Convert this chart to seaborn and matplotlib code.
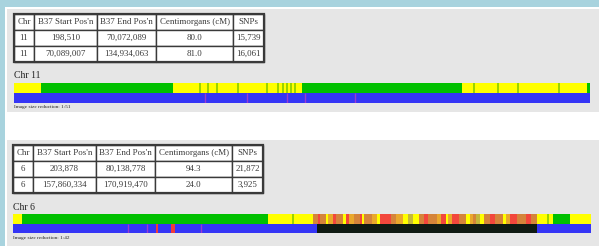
import matplotlib
matplotlib.use('Agg')
import matplotlib.pyplot as plt
import seaborn as sns
from matplotlib.patches import Rectangle

# ---- data ----
header = ['Chr', 'B37 Start Pos\'n', 'B37 End Pos\'n', 'Centimorgans (cM)', 'SNPs']

chr11_rows = [['11', '198,510', '70,072,089', '80.0', '15,739'],
              ['11', '70,089,007', '134,934,063', '81.0', '16,061']]
chr6_rows = [['6', '203,878', '80,138,778', '94.3', '21,872'],
             ['6', '157,860,334', '170,919,470', '24.0', '3,925']]

# chromosome 11 (Mb)
chr11_length = 135.0
chr11_green = [(6.3, 37.3), (67.5, 105.0), (134.3, 135.0)]
chr11_green_lines = [43.6, 45.5, 47.6, 52.5, 59.3, 61.9, 63.1, 64.0, 64.9, 65.9,
                     107.8, 113.4, 118.1, 127.7]
chr11_purple_lines = [44.8, 54.6, 64.0, 68.2, 79.9]
chr11_red = []
chr11_black = []
chr11_stripes = []

# chromosome 6 (Mb)
chr6_length = 171.0
chr6_green = [(2.7, 75.4), (159.7, 164.8)]
chr6_green_lines = [82.8, 158.3]
chr6_purple_lines = [34.0, 39.6, 55.6]
chr6_red = [(42.4, 42.9), (46.7, 47.9)]
chr6_black = [(89.9, 155.0)]
chr6_stripes = [
    (88.7, 90.2, 'b'), (90.2, 90.8, 'r'), (90.8, 92.6, 'b'), (93.2, 94.7, 'o'),
    (94.7, 95.5, 'r'), (95.5, 97.6, 'b'), (98.5, 99.4, 'r'), (99.4, 100.9, 'o'),
    (100.9, 102.6, 'b'), (102.6, 103.2, 'r'), (103.8, 106.2, 'b'), (106.2, 107.7, 'o'),
    (108.6, 111.8, 'r'), (111.8, 113.3, 'b'), (113.3, 115.4, 'o'), (116.8, 118.3, 'k'),
    (120.1, 121.6, 'b'), (121.6, 122.8, 'r'), (122.8, 125.4, 'b'), (125.4, 126.6, 'o'),
    (126.6, 128.1, 'r'), (128.7, 129.9, 'o'), (129.9, 131.9, 'r'), (131.9, 134.0, 'b'),
    (135.2, 136.1, 'o'), (136.1, 137.0, 'b'), (137.0, 138.1, 'k'), (139.3, 141.1, 'b'),
    (141.1, 142.6, 'r'), (142.6, 144.9, 'b'), (145.8, 147.0, 'o'), (147.0, 149.1, 'r'),
    (149.1, 151.7, 'b'), (151.7, 153.2, 'r'), (153.2, 155.0, 'b'),
]

YELLOW = '#ffff00'
GREEN = '#00c000'
GREEN_LINE = '#88cc00'
BLUE = '#3535f5'
PURPLE = '#9a3ad0'
RED = '#f03a3a'
BLACK = '#0f1a12'
STRIPE = {'b': '#d5843a', 'r': '#f2473c', 'o': '#e9a82c', 'k': '#c4b83a'}

sns.set_style('white')
plt.rcParams['font.family'] = ['Liberation Serif', 'DejaVu Serif']

W, H = 599, 246
fig = plt.figure(figsize=(W / 100, H / 100), dpi=100, facecolor='#a8d3de')


def box(x, y, w, h):
    return [x / W, 1 - (y + h) / H, w / W, h / H]


def rect(x, y, w, h, color):
    b = box(x, y, w, h)
    fig.add_artist(Rectangle((b[0], b[1]), b[2], b[3], transform=fig.transFigure,
                             facecolor=color, edgecolor='none', zorder=0))


rect(5, 7, W - 5, H - 7, 'white')
rect(7, 9, W - 7, 103, '#e6e6e6')
rect(7, 140, W - 7, H - 140, '#e6e6e6')

col_w = [20, 63, 59, 77, 31]
col_frac = [c / sum(col_w) for c in col_w]


def draw_table(x, y, rows):
    ax = fig.add_axes(box(x, y, 250, 48))
    ax.axis('off')
    tbl = ax.table(cellText=rows, colLabels=header, colWidths=col_frac,
                   bbox=[0, 0, 1, 1], cellLoc='center')
    tbl.auto_set_font_size(False)
    tbl.set_fontsize(6.4)
    for (r, c), cell in tbl.get_celld().items():
        cell.set_edgecolor('#3a3a3a')
        cell.set_linewidth(1.0)
        cell.set_facecolor('white')
        cell.get_text().set_color('#3a3a3a')
        cell.PAD = 0.02
    ax.add_patch(Rectangle((0, 0), 1, 1, transform=ax.transAxes, fill=False,
                           lw=1.6, ec='#3a3a3a', clip_on=False))


def bars(ax, spans, y0, colors):
    ax.broken_barh(spans, (y0, 1), facecolors=colors, edgecolor='none', linewidth=0)


def draw_chrom(x, y, w, h, length, green, green_lines, stripes, purple_lines, red, black):
    ax = fig.add_axes(box(x, y, w, h))
    ax.set_xlim(0, length)
    ax.set_ylim(0, 2)
    ax.axis('off')
    bars(ax, [(0, length)], 1, YELLOW)
    bars(ax, [(a, b - a) for a, b in green], 1, GREEN)
    ax.vlines(green_lines, 1, 2, colors=GREEN_LINE, lw=1.2)
    if stripes:
        bars(ax, [(a, b - a) for a, b, _ in stripes], 1, [STRIPE[k] for _, _, k in stripes])
    bars(ax, [(0, length)], 0, BLUE)
    ax.vlines(purple_lines, 0, 1, colors=PURPLE, lw=1.0)
    if red:
        bars(ax, [(a, b - a) for a, b in red], 0, RED)
    if black:
        bars(ax, [(a, b - a) for a, b in black], 0, BLACK)


def label(x, y, s, size):
    fig.text(x / W, 1 - y / H, s, fontsize=size, va='center', ha='left', color='#222222')


# panel 1: chromosome 11
draw_table(14, 14, chr11_rows)
label(14, 76, 'Chr 11', 7)
draw_chrom(14, 83, 576, 20, chr11_length, chr11_green, chr11_green_lines, chr11_stripes,
           chr11_purple_lines, chr11_red, chr11_black)
label(14, 107, 'Image size reduction: 1:51', 3.8)

# panel 2: chromosome 6
draw_table(13, 145, chr6_rows)
label(13, 207, 'Chr 6', 7)
draw_chrom(13, 214, 578, 19, chr6_length, chr6_green, chr6_green_lines, chr6_stripes,
           chr6_purple_lines, chr6_red, chr6_black)
label(13, 238, 'Image size reduction: 1:42', 3.8)

fig.savefig('out.png', dpi=100, facecolor=fig.get_facecolor())
